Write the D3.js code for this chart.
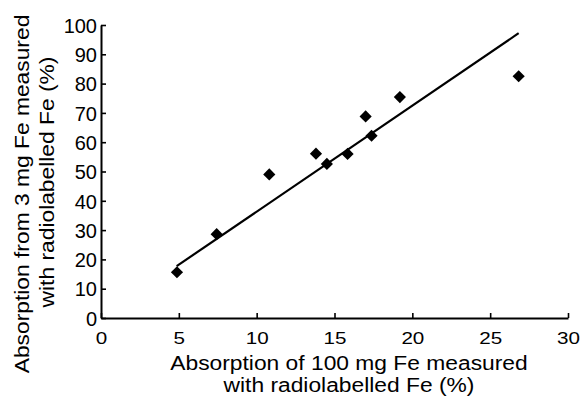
<!DOCTYPE html>
<html><head><meta charset="utf-8">
<script src="https://cdn.jsdelivr.net/npm/d3@7"></script>
<style>
body{margin:0;background:#fff;}
text{font-family:"Liberation Sans",Arial,Helvetica,sans-serif;fill:#000;}
</style></head>
<body><svg id="c" width="583" height="399"></svg>
<script>
const xValues = [4.88, 7.43, 10.81, 13.81, 14.51, 15.84, 17.0, 17.38, 19.2, 26.83];
const yValues = [15.6, 28.6, 49.0, 56.1, 52.6, 56.0, 68.8, 62.2, 75.4, 82.5];
const fitLine = [[4.86, 17.7], [26.83, 97.2]];
const xTicks = [0, 5, 10, 15, 20, 25, 30];
const yTicks = [0, 10, 20, 30, 40, 50, 60, 70, 80, 90, 100];
const xTitle = ["Absorption of 100 mg Fe measured", "with radiolabelled Fe (%)"];
const yTitle = ["Absorption from 3 mg Fe measured", "with radiolabelled Fe (%)"];

const svg = d3.select("#c");
const x = d3.scaleLinear().domain([0, 30]).range([101, 568]);
const y = d3.scaleLinear().domain([0, 100]).range([318, 25]);

// x axis
const gx = svg.append("g").attr("transform", "translate(0,318)")
  .call(d3.axisBottom(x).tickValues(xTicks).tickSizeInner(-5).tickSizeOuter(0));
gx.select(".domain").attr("stroke", "#000").attr("stroke-width", 2);
gx.selectAll(".tick line").attr("stroke", "#000").attr("stroke-width", 1.6);
gx.selectAll(".tick text").attr("y", 26).attr("dy", 0)
  .attr("font-size", 16.5).attr("transform", "scale(1.25,1)").attr("fill", "#000");

// y axis
const gy = svg.append("g").attr("transform", "translate(101,0)")
  .call(d3.axisLeft(y).tickValues(yTicks).tickSizeInner(-5).tickSizeOuter(0));
gy.select(".domain").attr("stroke", "#000").attr("stroke-width", 2);
gy.selectAll(".tick line").attr("stroke", "#000").attr("stroke-width", 1.6);
gy.selectAll(".tick text").attr("x", -4).attr("dy", "0.36em")
  .attr("font-size", 20).attr("fill", "#000");
svg.selectAll(".tick text").style("font-family", "'Liberation Sans',Arial,sans-serif");

// fit line
svg.append("path")
  .attr("d", d3.line().x(d => x(d[0])).y(d => y(d[1]))(fitLine))
  .attr("fill", "none").attr("stroke", "#000").attr("stroke-width", 2.2);

// points
const sym = d3.symbol().type(d3.symbolSquare).size(74);
svg.selectAll("path.pt").data(xValues.map((v, i) => [v, yValues[i]])).enter()
  .append("path").attr("class", "pt")
  .attr("d", sym)
  .attr("transform", d => `translate(${x(d[0])},${y(d[1])}) rotate(45)`)
  .attr("fill", "#000");

// titles
function stretched(sel, factor) {
  sel.each(function () {
    const w = this.getComputedTextLength();
    d3.select(this).attr("textLength", w * factor).attr("lengthAdjust", "spacingAndGlyphs");
  });
}
const xt = svg.selectAll("text.xt").data(xTitle).enter().append("text").attr("class", "xt")
  .attr("x", 349).attr("y", (d, i) => i === 0 ? 370 : 392)
  .attr("text-anchor", "middle").attr("font-size", 20).text(d => d);
stretched(xt, 1.14);

const ytPos = [[29, 194], [54, 182]];
const yt = svg.selectAll("text.yt").data(yTitle).enter().append("text").attr("class", "yt")
  .attr("transform", (d, i) => `translate(${ytPos[i][0]},${ytPos[i][1]}) rotate(-90)`)
  .attr("text-anchor", "middle").attr("font-size", 20).text(d => d);
stretched(yt, 1.14);
</script></body></html>
